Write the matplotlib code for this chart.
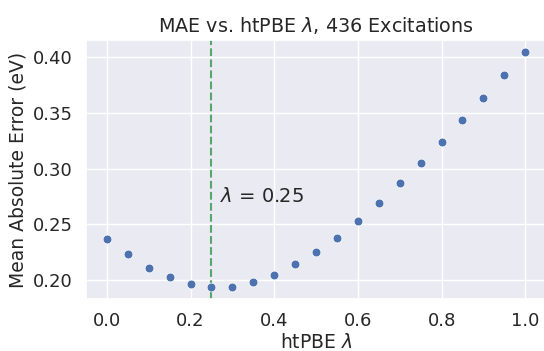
import matplotlib
matplotlib.use("Agg")
import matplotlib.pyplot as plt
import seaborn as sns

sns.set_theme(style="darkgrid")

# htPBE lambda values and the mean absolute error at each
lambdas = [0.00, 0.05, 0.10, 0.15, 0.20, 0.25, 0.30, 0.35, 0.40, 0.45, 0.50,
           0.55, 0.60, 0.65, 0.70, 0.75, 0.80, 0.85, 0.90, 0.95, 1.00]
mae = [0.2373, 0.2231, 0.2110, 0.2024, 0.1964, 0.1935, 0.1941, 0.1980, 0.2048,
       0.2140, 0.2249, 0.2379, 0.2530, 0.2693, 0.2868, 0.3051, 0.3241, 0.3439,
       0.3638, 0.3838, 0.4050]
best_lambda = 0.25

fig, ax = plt.subplots(figsize=(5.44, 3.51), dpi=100)
# the original figure is cropped just past the right edge of the axes
fig.subplots_adjust(left=0.158, right=1.004, top=0.886, bottom=0.148)

ax.scatter(lambdas, mae, s=40, color="#4c72b0", edgecolor="white", linewidth=0.5, zorder=3)
ax.axvline(best_lambda, color="#55a868", linestyle="--", linewidth=1.5)
ax.text(0.27, 0.27, r"$\lambda$ = 0.25", fontsize=14, color="#262626")

ax.set_title(r"MAE vs. htPBE $\lambda$, 436 Excitations", fontsize=13.8)
ax.set_xlabel(r"htPBE $\lambda$", fontsize=13.5, labelpad=2)
ax.set_ylabel("Mean Absolute Error (eV)", fontsize=13.5)
ax.set_xticks([0.0, 0.2, 0.4, 0.6, 0.8, 1.0])
ax.set_yticks([0.20, 0.25, 0.30, 0.35, 0.40])
ax.tick_params(labelsize=13)

fig.savefig("out.png", dpi=100)
